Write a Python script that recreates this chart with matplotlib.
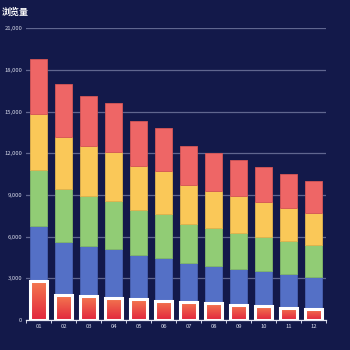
import matplotlib
matplotlib.use("Agg")
import matplotlib.pyplot as plt
import numpy as np
from matplotlib.colors import LinearSegmentedColormap
from matplotlib.patches import Rectangle

plt.rcParams['font.family'] = ['Noto Sans CJK SC', 'DejaVu Sans']

categories = ['01', '02', '03', '04', '05', '06', '07', '08', '09', '10', '11', '12']
base_values = [2800, 1800, 1700, 1600, 1500, 1400, 1300, 1200, 1100, 1000, 900, 800]
blue_values = [4000, 3800, 3600, 3500, 3200, 3100, 2800, 2700, 2600, 2500, 2400, 2300]
green_values = [4000, 3800, 3600, 3500, 3200, 3100, 2800, 2700, 2600, 2500, 2400, 2300]
yellow_values = [4000, 3800, 3600, 3500, 3200, 3100, 2800, 2700, 2600, 2500, 2400, 2300]
red_values = [4000, 3800, 3600, 3500, 3200, 3100, 2800, 2700, 2600, 2500, 2400, 2300]
y_ticks = [0, 3000, 6000, 9000, 12000, 15000, 18000, 21000]
title = '浏览量'

bg = '#13194a'
fig = plt.figure(figsize=(3.5, 3.5), dpi=100, facecolor=bg)
ax = fig.add_axes([0.0757, 0.0857, 0.857, 0.8333])
ax.set_facecolor(bg)

x = np.arange(len(categories))
w = 0.68

stack_series = [
    (blue_values, '#5470c6', '#4a63b3'),
    (green_values, '#91cc75', '#82b869'),
    (yellow_values, '#fac858', '#e3b44d'),
    (red_values, '#ee6666', '#d65656'),
]
bottom = np.array(base_values, dtype=float)
for vals, col, ecol in stack_series:
    ax.bar(x, vals, width=w, bottom=bottom, color=col, edgecolor=ecol,
           linewidth=0.6, zorder=2)
    bottom = bottom + np.array(vals)

cmap = LinearSegmentedColormap.from_list('g', ['#e2263d', '#f47a50'])
grad = np.linspace(0, 1, 256).reshape(-1, 1)
for xi, v in zip(x, base_values):
    ax.imshow(grad, extent=[xi - w / 2, xi + w / 2, 0, v], origin='lower',
              aspect='auto', cmap=cmap, zorder=3, interpolation='bilinear')
    ax.add_patch(Rectangle((xi - w / 2, 0), w, v, facecolor='none',
                           edgecolor='white', linewidth=2.2, zorder=4))

ax.set_xlim(-0.5, len(categories) - 0.5)
ax.set_ylim(0, 21000)

ax.set_yticks(y_ticks)
ax.set_yticklabels([f'{t:,}' for t in y_ticks], fontsize=4.2, color='#d8dbea')
ax.yaxis.grid(True, color='#60668f', linewidth=0.9, zorder=1)
ax.set_axisbelow(True)
ax.tick_params(axis='y', length=0, pad=3)

ax.set_xticks(x)
ax.set_xticklabels(categories, fontsize=4.2, color='#d8dbea')
ax.tick_params(axis='x', length=0, pad=3)
ax.set_xticks(np.arange(-0.5, len(categories)), minor=True)
ax.tick_params(axis='x', which='minor', length=2.5, color='#cfd3e6', width=0.7)

for s in ['top', 'right', 'left']:
    ax.spines[s].set_visible(False)
ax.spines['bottom'].set_color('#e6e8f2')
ax.spines['bottom'].set_linewidth(0.9)
ax.spines['bottom'].set_zorder(5)

fig.text(0.006, 0.978, title, color='white', fontsize=6.5, fontweight='bold',
         ha='left', va='top')

fig.savefig('out.png', dpi=100, facecolor=bg)
